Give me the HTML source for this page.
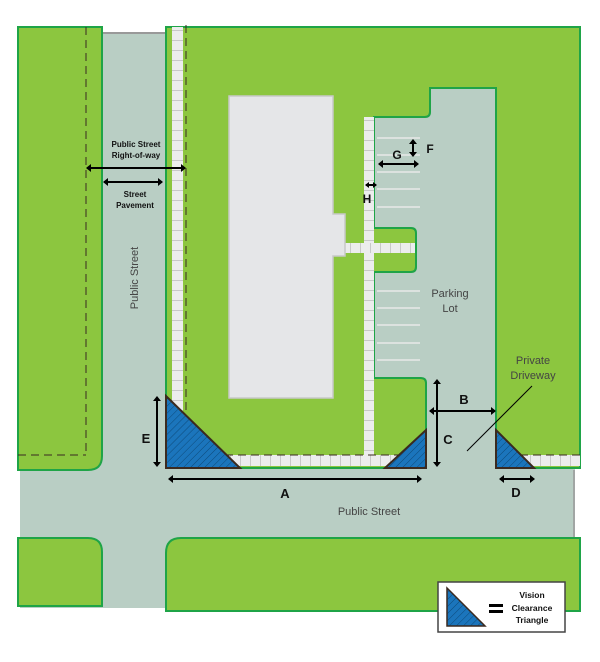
<!DOCTYPE html>
<html><head><style>
body{margin:0;background:#fff}
svg{display:block;font-family:"Liberation Sans",sans-serif}
</style></head><body>
<svg width="600" height="662" viewBox="0 0 600 662" xmlns="http://www.w3.org/2000/svg">
<defs>
<pattern id="hat" width="5" height="5" patternUnits="userSpaceOnUse" patternTransform="rotate(45)">
<rect width="5" height="5" fill="#1b75bc"/><line x1="0" y1="0" x2="0" y2="5" stroke="#0d4a7a" stroke-width="1"/>
</pattern>
<pattern id="tv" width="11" height="10" patternUnits="userSpaceOnUse">
<rect width="11" height="10" fill="#eceded"/><line x1="0" y1="0" x2="11" y2="0" stroke="#bdbdbd" stroke-width="1.5"/>
</pattern>
<pattern id="th" width="10" height="11" patternUnits="userSpaceOnUse">
<rect width="10" height="11" fill="#eceded"/><line x1="0" y1="0" x2="0" y2="11" stroke="#bdbdbd" stroke-width="1.5"/>
</pattern>
</defs>
<rect x="20" y="33" width="145" height="575" fill="#b9cec4"/>
<rect x="20" y="460" width="555" height="148" fill="#b9cec4"/>
<line x1="103" y1="33" x2="166" y2="33" stroke="#999" stroke-width="2"/>
<line x1="574" y1="470" x2="574" y2="538" stroke="#999" stroke-width="1.5"/>
<path d="M18,27 H102 V456 q0,14 -14,14 H18 Z" fill="#8cc63f" stroke="#1fa447" stroke-width="2"/>
<line x1="86" y1="27" x2="86" y2="455" stroke="#3a2a20" stroke-dasharray="8,5"/>
<line x1="18" y1="455" x2="86" y2="455" stroke="#3a2a20" stroke-dasharray="8,5"/>
<path d="M166,27 H580 V468 H496 V88 H430 V112 q0,5 -5,5 H374 V228 H411 q5,0 5,5 V267 q0,5 -5,5 H374 V378 H421 q5,0 5,5 V463 q0,5 -5,5 H166 Z" fill="#8cc63f" stroke="#1fa447" stroke-width="2"/>
<path d="M496,88 H430 V112 q0,5 -5,5 H374 V228 H411 q5,0 5,5 V267 q0,5 -5,5 H374 V378 H421 q5,0 5,5 V468 H496 Z" fill="#b9cec4"/>
<path d="M496,468 V88 H430 V112 q0,5 -5,5 H374 V228 H411 q5,0 5,5 V267 q0,5 -5,5 H374 V378 H421 q5,0 5,5 V468" fill="none" stroke="#1fa447" stroke-width="2"/>
<path d="M18,538 H88 q14,0 14,14 V606 H18 Z" fill="#8cc63f" stroke="#1fa447" stroke-width="2"/>
<path d="M181,538 H580 V611 H166 V553 q0,-15 15,-15 Z" fill="#8cc63f" stroke="#1fa447" stroke-width="2"/>
<rect x="172" y="27" width="11" height="433" fill="url(#tv)"/>
<rect x="172" y="455" width="250" height="11" fill="url(#th)"/>
<rect x="364" y="117" width="10" height="338" fill="url(#tv)"/>
<rect x="345" y="243" width="70" height="10" fill="url(#th)"/>
<rect x="520" y="455" width="60" height="11" fill="url(#th)"/>
<line x1="186" y1="25" x2="186" y2="455" stroke="#3a2a20" stroke-dasharray="8,5"/>
<line x1="186" y1="455" x2="420" y2="455" stroke="#3a2a20" stroke-dasharray="8,5"/>
<line x1="520" y1="455" x2="580" y2="455" stroke="#3a2a20" stroke-dasharray="8,5"/>
<path d="M229,96 H333 V214 H345 V256 H333 V398 H229 Z" fill="#e5e6e8" stroke="#c8c8c8" stroke-width="1.5"/>
<g stroke="#e8e8e8" stroke-width="1.5">
<line x1="377" y1="138" x2="420" y2="138"/><line x1="377" y1="155" x2="420" y2="155"/><line x1="377" y1="172" x2="420" y2="172"/><line x1="377" y1="189" x2="420" y2="189"/><line x1="377" y1="207" x2="420" y2="207"/>
<line x1="377" y1="291" x2="420" y2="291"/><line x1="377" y1="308" x2="420" y2="308"/><line x1="377" y1="325" x2="420" y2="325"/><line x1="377" y1="343" x2="420" y2="343"/><line x1="377" y1="360" x2="420" y2="360"/>
</g>
<g fill="url(#hat)" stroke="#3a2a20" stroke-width="2">
<path d="M166,396 V468 H240 Z"/>
<path d="M426,430 V468 H385 Z"/>
<path d="M496,430 V468 H534 Z"/>
</g>
<g stroke="#000" stroke-width="2" fill="none">
<line x1="87" y1="168" x2="185" y2="168"/><line x1="104" y1="182" x2="162" y2="182"/>
<line x1="157" y1="398" x2="157" y2="465"/><line x1="169" y1="479" x2="421" y2="479"/>
<line x1="437" y1="381" x2="437" y2="465"/><line x1="430" y1="411" x2="495" y2="411"/>
<line x1="500" y1="479" x2="534" y2="479"/><line x1="413" y1="141" x2="413" y2="155"/>
<line x1="379" y1="164" x2="418" y2="164"/><line x1="366" y1="185" x2="376" y2="185"/>
</g>
<g fill="#000">
<path d="M86,168 l5,-4 v8z"/><path d="M186,168 l-5,-4 v8z"/>
<path d="M103,182 l5,-4 v8z"/><path d="M163,182 l-5,-4 v8z"/>
<path d="M157,396 l-4,5 h8z"/><path d="M157,467 l-4,-5 h8z"/>
<path d="M168,479 l5,-4 v8z"/><path d="M422,479 l-5,-4 v8z"/>
<path d="M437,379 l-4,5 h8z"/><path d="M437,467 l-4,-5 h8z"/>
<path d="M429,411 l5,-4 v8z"/><path d="M496,411 l-5,-4 v8z"/>
<path d="M499,479 l5,-4 v8z"/><path d="M535,479 l-5,-4 v8z"/>
<path d="M413,139 l-4,5 h8z"/><path d="M413,157 l-4,-5 h8z"/>
<path d="M378,164 l5,-4 v8z"/><path d="M419,164 l-5,-4 v8z"/>
<path d="M365,185 l4,-3 v6z"/><path d="M377,185 l-4,-3 v6z"/>
</g>
<line x1="532" y1="386" x2="467" y2="451" stroke="#000" stroke-width="1"/>
<g font-weight="bold" font-size="8" text-anchor="middle" fill="#111">
<text x="136" y="147">Public Street</text><text x="136" y="158">Right-of-way</text>
<text x="135" y="197">Street</text><text x="135" y="208">Pavement</text>
</g>
<g font-weight="bold" font-size="13" fill="#111" text-anchor="middle">
<text x="397" y="159" font-size="12">G</text><text x="430" y="153" font-size="12">F</text>
<text x="367" y="203" font-size="12">H</text>
<text x="146" y="443">E</text><text x="285" y="498">A</text>
<text x="448" y="444">C</text><text x="464" y="404">B</text>
<text x="516" y="497">D</text>
</g>
<g font-size="11" fill="#444" text-anchor="middle">
<text x="450" y="297">Parking</text><text x="450" y="312">Lot</text>
<text x="533" y="364">Private</text><text x="533" y="379">Driveway</text>
<text x="369" y="515">Public Street</text>
<text transform="translate(138,278) rotate(-90)">Public Street</text>
</g>
<rect x="438" y="582" width="127" height="50" fill="#fff" stroke="#444" stroke-width="1.5"/>
<path d="M447,588 V626 H485 Z" fill="url(#hat)" stroke="#3a2a20" stroke-width="1.5"/>
<rect x="489" y="604" width="14" height="3" fill="#000"/><rect x="489" y="610" width="14" height="3" fill="#000"/>
<g font-weight="bold" font-size="8.5" text-anchor="middle" fill="#111">
<text x="532" y="598">Vision</text><text x="532" y="611">Clearance</text><text x="532" y="623">Triangle</text>
</g>
</svg>
</body></html>
